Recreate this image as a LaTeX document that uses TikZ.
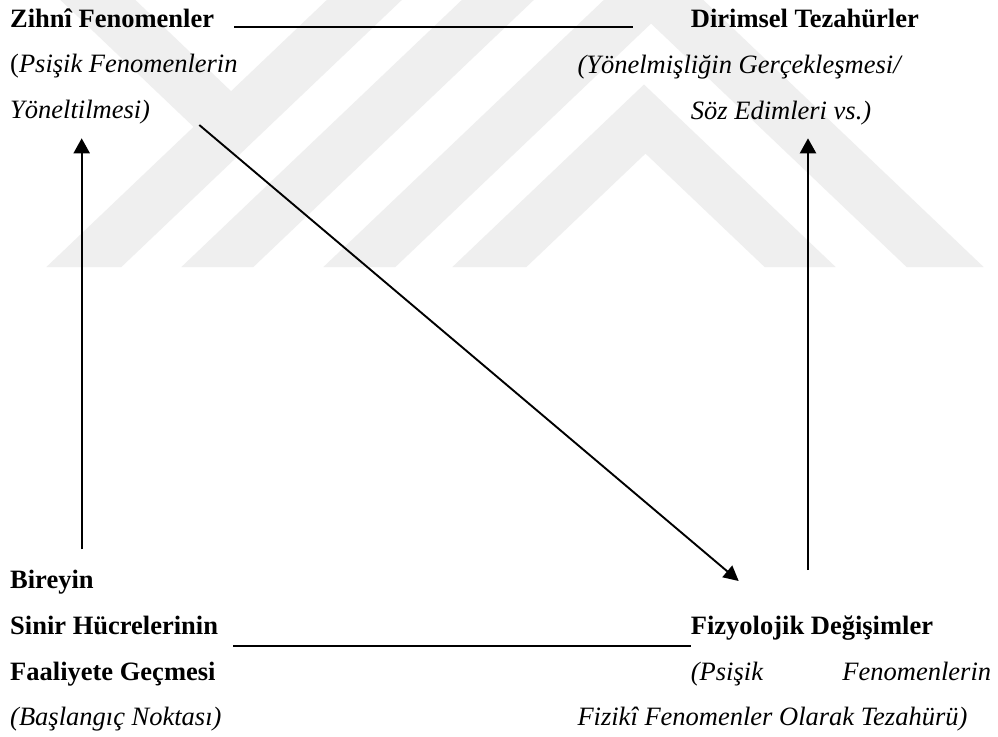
\documentclass[tikz,border=0pt]{standalone}
\usepackage{fontspec}
\setmainfont{Liberation Serif}
\usetikzlibrary{arrows.meta}
\definecolor{wm}{RGB}{239,239,239}
\begin{document}
\begin{tikzpicture}[x=1pt,y=-1pt,
  txt/.style={anchor=base west, inner sep=0pt, font=\fontsize{26.5}{30}\selectfont},
  bd/.style={txt, font=\fontsize{26.5}{30}\selectfont\bfseries},
  itx/.style={txt, font=\fontsize{26.5}{30}\selectfont\itshape},
  hline/.style={line width=2.2pt},
  arr/.style={line width=2.2pt, -{Triangle[length=15pt,width=16pt]}},
  darr/.style={line width=1.9pt, -{Triangle[length=15pt,width=15pt]}},
  band/.style={fill=wm, draw=none}]
\useasboundingbox (0,0) rectangle (998,736);
\fill[white] (0,0) rectangle (998,736);
% watermark
\begin{scope}
\clip (0,0) rectangle (998,267);
\fill[band] (60.4,0) -- (135.4,0) -- (233,93) -- (193.6,126.9) -- cycle;
\fill[band] (46.4,267) -- (121.4,267) -- (401.8,0) -- (326.8,0) -- cycle;
\fill[band] (181.4,267) -- (253.4,267) -- (533.8,0) -- (461.8,0) -- cycle;
\fill[band] (323.4,267) -- (395.4,267) -- (675.8,0) -- (603.8,0) -- cycle;
\fill[band] (452.4,267) -- (644,84.5) -- (835.6,267) -- (764.6,267) -- (645.5,153.6) -- (526.4,267) -- cycle;
\fill[band] (906.6,267) -- (983.6,267) -- (703.3,0) -- (626.3,0) -- cycle;
\end{scope}
% texts
\node[bd] (zihni) at (10,27.7) {Zihnî Fenomenler};
\node[txt] (psisikL) at (10,72.7) {(\textit{Psişik Fenomenlerin}};
\node[itx] (yonelt) at (10,118) {Yöneltilmesi)};
\node[bd] (dirimsel) at (690.7,27.7) {Dirimsel Tezahürler};
\node[itx] (yonelmis) at (577.3,73.5) {(Yönelmişliğin Gerçekleşmesi/};
\node[itx] (soz) at (690.7,119) {Söz Edimleri vs.)};
\node[bd] (bireyin) at (10,588.3) {Bireyin};
\node[bd] (sinir) at (10,634.3) {Sinir Hücrelerinin};
\node[bd] (faaliyet) at (10,680) {Faaliyete Geçmesi};
\node[itx] (baslangic) at (10,725) {(Başlangıç Noktası)};
\node[bd] (fizyo) at (690.7,634.3) {Fizyolojik Değişimler};
\node[itx] (psisikR) at (690.7,680) {(Psişik};
\node[itx, anchor=base east] (fenR) at (991.3,680) {Fenomenlerin};
\node[itx] (fiziki) at (577.3,725) {Fizikî Fenomenler Olarak Tezahürü)};
% connector end points
\coordinate (topA) at (234.3,26.7);
\coordinate (topB) at (633,26.7);
\coordinate (botA) at (233.3,646);
\coordinate (botB) at (691.3,646);
\coordinate (leftS) at (81.7,549.3);
\coordinate (leftE) at (81.7,138.3);
\coordinate (rightS) at (808,570);
\coordinate (rightE) at (808,138.3);
\coordinate (diagS) at (199.3,125);
\coordinate (diagE) at (738.7,581);
\draw[hline] (topA) -- (topB);
\draw[hline] (botA) -- (botB);
\draw[arr] (leftS) -- (leftE);
\draw[arr] (rightS) -- (rightE);
\draw[darr] (diagS) -- (diagE);
\end{tikzpicture}
\end{document}
